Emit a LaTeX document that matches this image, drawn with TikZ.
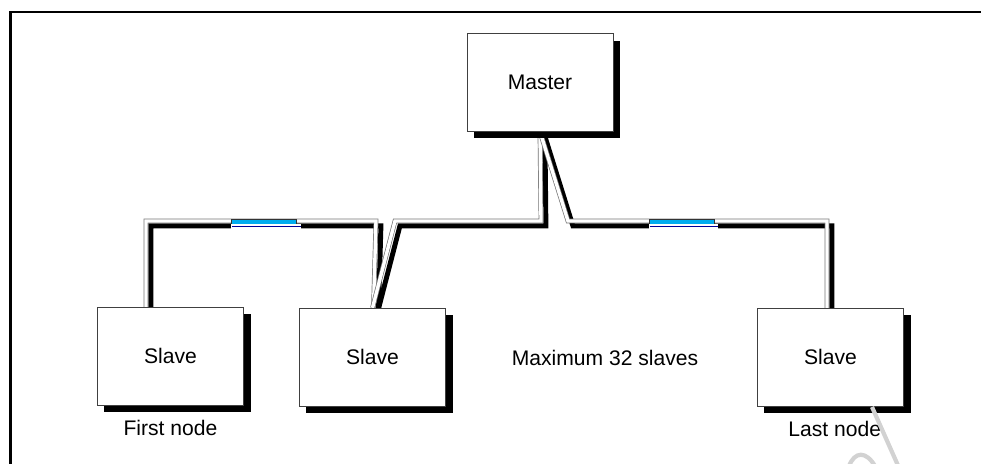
\documentclass[tikz,border=0pt]{standalone}
\usepackage{fontspec}
\setmainfont{Liberation Sans}
\usetikzlibrary{positioning,shadows,calc,backgrounds}

\begin{document}
\begin{tikzpicture}[x=0.025cm, y=-0.025cm, font=\fontsize{15}{18}\selectfont,
  box/.style={draw=black!75, fill=white, minimum width=104pt, minimum height=69.5pt,
    drop shadow={shadow xshift=5pt, shadow yshift=-5pt, fill=black, opacity=1}},
  cable/.style={draw=black!55, double=white, double distance=2.4pt, line width=0.5pt,
    preaction={draw=black, line width=3.5pt, transform canvas={shift={(3.5pt,-3.5pt)}}}},
  term/.style={draw=black!80, fill=cyan, minimum width=46pt, minimum height=3.5pt, inner sep=0pt}]
  \useasboundingbox (0,0) rectangle (981,463);
  \clip (0,0) rectangle (981,463);
  % frame
  \draw[line width=1.6pt] (10.5,480) |- (995,12);
  % master and slaves
  \node[box] (master) at (540,82.5) {Master};
  \node[box] (slave1) at (170.5,356) {Slave};
  \node[box] (slave2) at (372.5,357) {Slave};
  \node[box] (slave3) at (830.5,357) {Slave};
  \node[below=7pt of slave1] (first) {First node};
  \node[below=7pt of slave3, xshift=3pt] (last) {Last node};
  \node (max) at (605,358) {Maximum 32 slaves};
  % bus cables
  \begin{pgfonlayer}{background}
    \coordinate (tap1) at ($(slave1.north)+(-24.5,0)$);
    \coordinate (tap3) at ($(slave3.north)+(-3.5,0)$);
    \draw[cable] (tap1) |- (376,221) -- ($(slave2.north)+(1,0)$);
    \draw[cable] (master.south) -- (541,221) -- (395,221) -- (slave2.north);
    \draw[cable] (master.south) -- (568,221) -| (tap3);
  \end{pgfonlayer}
  % terminators
  \node[term] (term1) at (264,221.5) {};
  \node[term] (term2) at (681.5,221.5) {};
  \foreach \t in {term1,term2} {
    \fill[white] (\t.south west) rectangle ($(\t.south east)+(4,6)$);
    \draw[blue!60!black, line width=1pt] ($(\t.south west)+(1,2)$) -- ($(\t.south east)+(4,2)$);
  }
  % watermark stroke
  \draw[gray!35, line width=3pt] (872,407) -- (900,470);
  \draw[gray!35, line width=3pt] (849,466) .. controls (855,451) and (866,451) .. (875,466);
\end{tikzpicture}
\end{document}
